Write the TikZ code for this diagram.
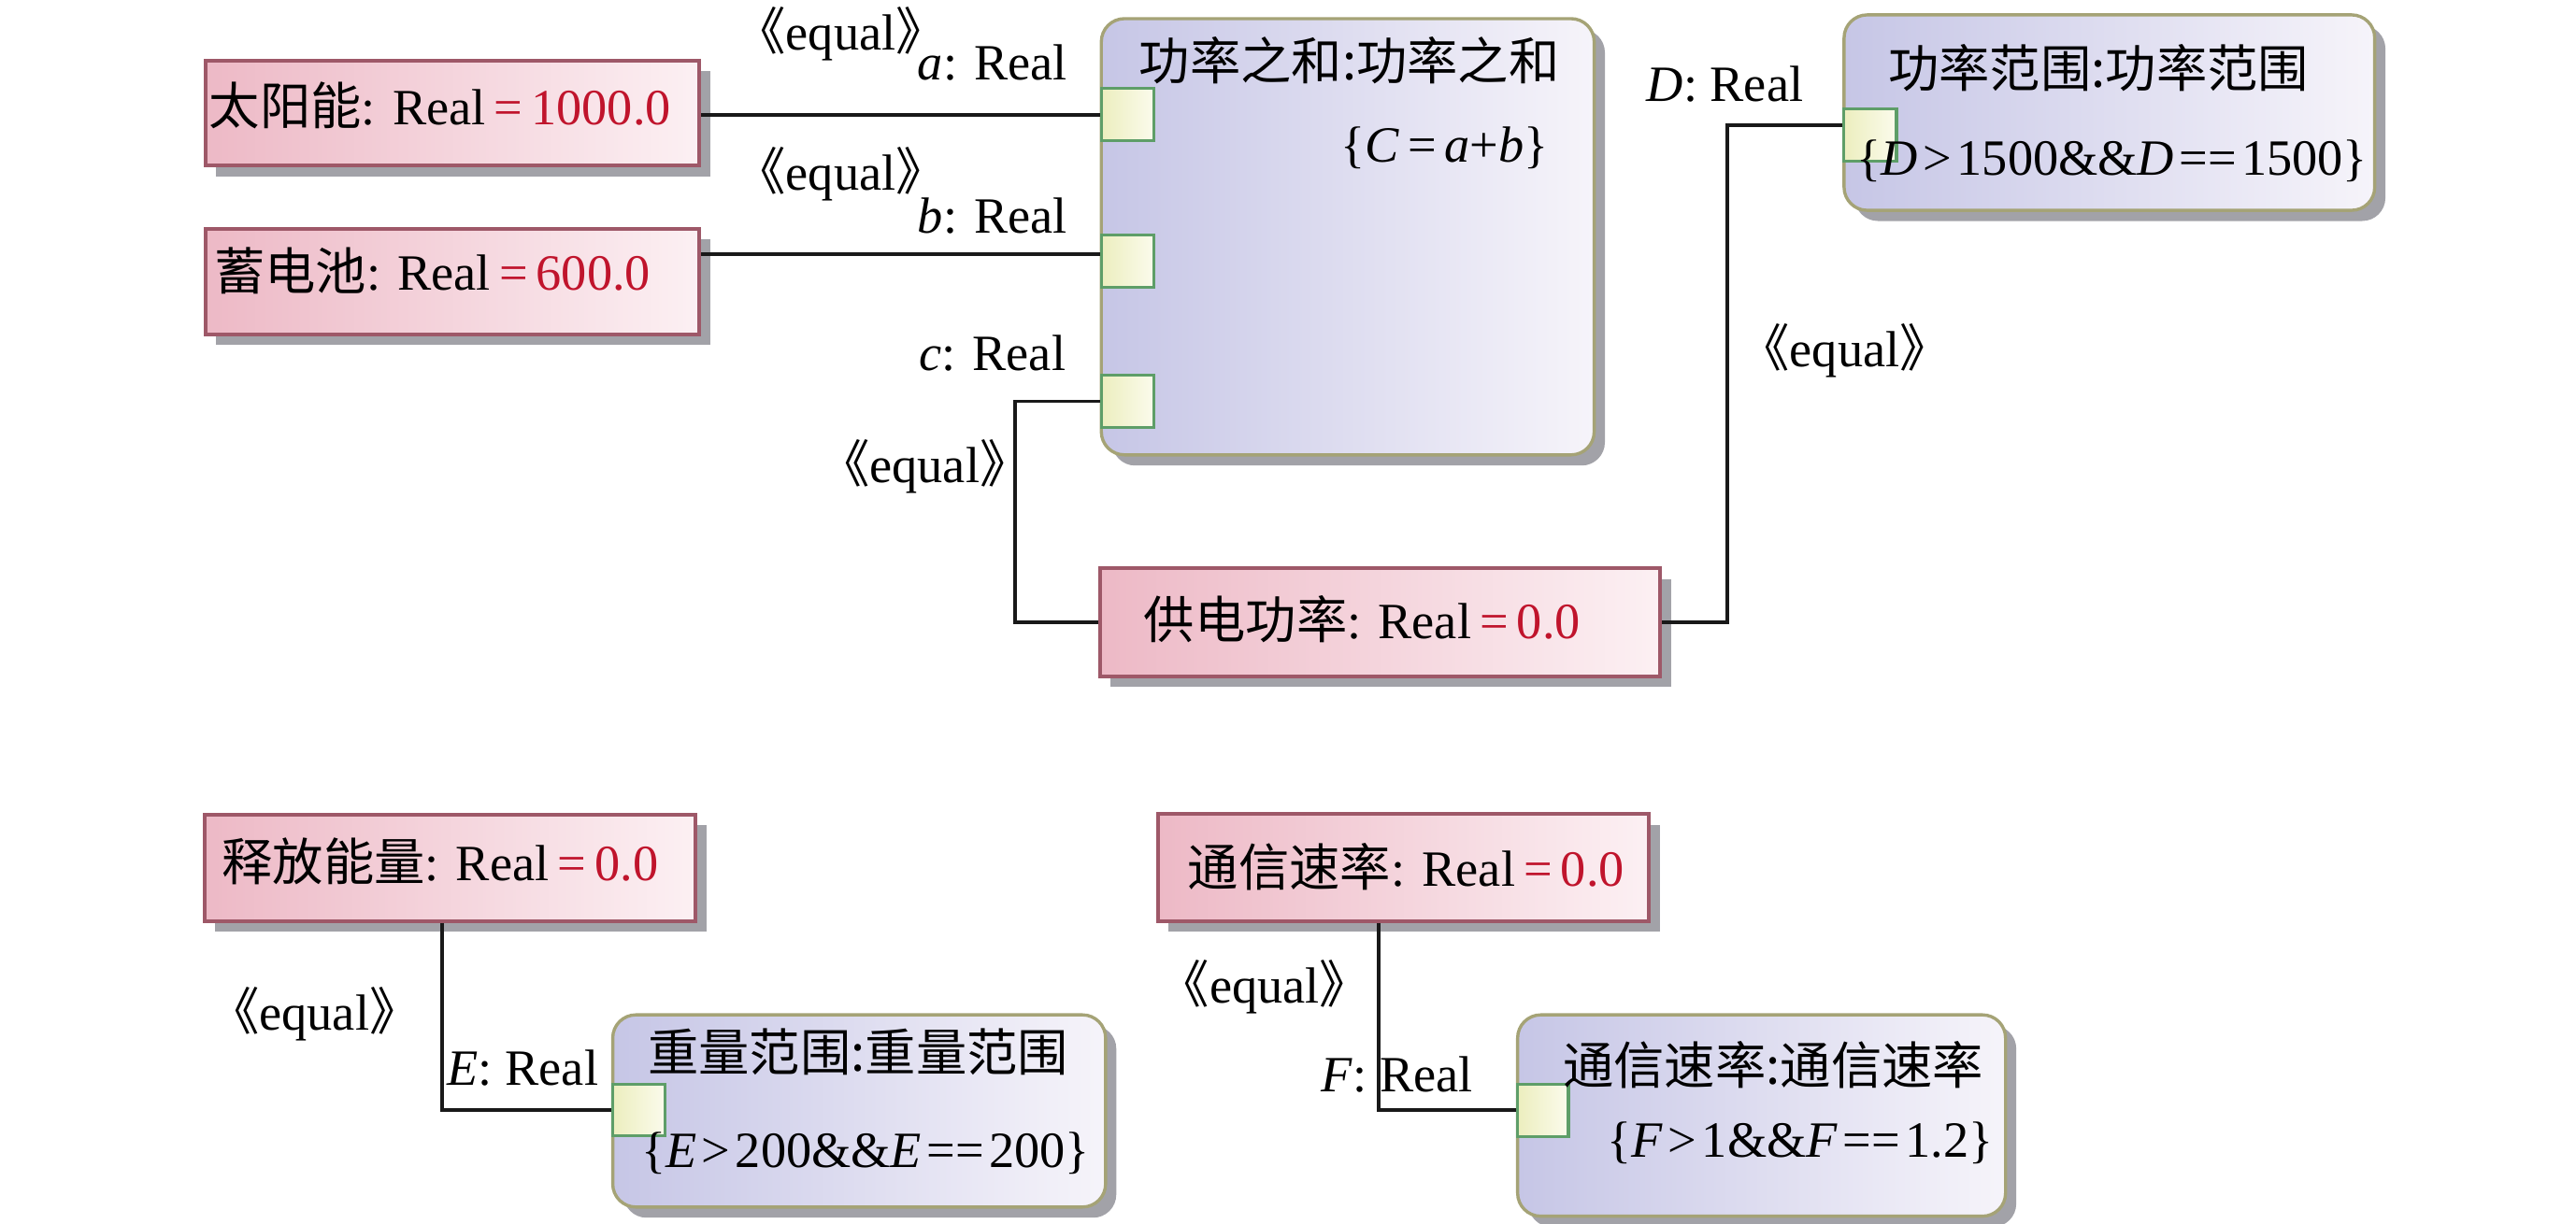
\documentclass[tikz,border=0pt]{standalone}
\usepackage{fontspec}
\setmainfont{Liberation Serif}
\newfontfamily\cjkfont{Noto Sans CJK SC}
\newcommand{\zh}[1]{{\cjkfont #1}}
\newcommand{\eql}{{\cjkfont\kern-0.45em《}equal{\cjkfont 》\kern-0.45em}}
\newcommand{\rv}[1]{\textcolor{valred}{#1}}
\usetikzlibrary{shadows}
\definecolor{pinkL}{HTML}{EDB9C6}
\definecolor{pinkR}{HTML}{FCF0F3}
\definecolor{pinkB}{HTML}{9E5868}
\definecolor{blueL}{HTML}{C6C6E6}
\definecolor{blueR}{HTML}{F6F4FA}
\definecolor{blueB}{HTML}{A5A376}
\definecolor{portL}{HTML}{ECEEBE}
\definecolor{portR}{HTML}{FBFBEC}
\definecolor{portB}{HTML}{5E9E68}
\definecolor{shadowc}{HTML}{A2A2A8}
\definecolor{valred}{HTML}{C0142C}
\tikzset{
  shad/.style={drop shadow={shadow xshift=0.13cm, shadow yshift=-0.13cm, fill=shadowc, opacity=1}},
  valbox/.style={shad, draw=pinkB, line width=1.3pt, left color=pinkL, right color=pinkR,
    rectangle, anchor=north west, inner sep=0pt},
  cblock/.style={shad, draw=blueB, line width=1.1pt, left color=blueL, right color=blueR,
    rectangle, rounded corners=8pt, anchor=north west, inner sep=0pt},
  portbox/.style={draw=portB, line width=1pt, left color=portL, right color=portR,
    rectangle, anchor=north west, inner sep=0pt, minimum width=32*0.02cm, minimum height=32*0.02cm},
  txt/.style={font=\fontsize{17.6}{21}\selectfont, inner sep=0pt, text=black},
  conn/.style={draw=black!90, line width=1.25pt},
}
\begin{document}
\begin{tikzpicture}[x=0.02cm, y=-0.02cm]
\path[use as bounding box] (0,0) rectangle (1568,744.75);

% value property boxes
\node[valbox, minimum width=300.5*0.02cm, minimum height=64*0.02cm] (sun) at (124,35.7) {};
\node[valbox, minimum width=300.5*0.02cm, minimum height=64.5*0.02cm] (bat) at (124,138) {};
\node[valbox, minimum width=341*0.02cm, minimum height=65.6*0.02cm] (pwr) at (668.5,345) {};
\node[valbox, minimum width=299*0.02cm, minimum height=64.8*0.02cm] (rel) at (123.3,495) {};
\node[valbox, minimum width=299*0.02cm, minimum height=65.2*0.02cm] (comm) at (703.7,494.6) {};

% constraint blocks
\node[cblock, minimum width=300*0.02cm, minimum height=265.6*0.02cm] (sum) at (669.4,10.4) {};
\node[cblock, minimum width=323*0.02cm, minimum height=119*0.02cm] (prange) at (1121.5,8.1) {};
\node[cblock, minimum width=300*0.02cm, minimum height=117*0.02cm] (wrange) at (372,617) {};
\node[cblock, minimum width=297*0.02cm, minimum height=122.6*0.02cm] (crate) at (922.8,617) {};

% ports
\node[portbox] (pa) at (669.4,53) {};
\node[portbox] (pb) at (669.4,142) {};
\node[portbox] (pc) at (669.4,227.5) {};
\node[portbox] (pd) at (1121.5,65.5) {};
\node[portbox, minimum height=31*0.02cm] (pe) at (372,659.6) {};
\node[portbox, minimum width=31*0.02cm, minimum height=31.5*0.02cm] (pf) at (922.8,659.5) {};

% connectors
\coordinate (bl) at (500,155);
\coordinate (cbend) at (618,242);
\coordinate (dbend) at (1051.5,76);
\coordinate (fx) at (839,600);
\coordinate (ex) at (269,600);
\draw[conn] (pa.west) -- (pa.west -| sun.east);
\draw[conn] (bl -| bat.east) -- (bl -| pb.west);
\draw[conn] (pc.west) -- (pc.west -| cbend) |- (pwr.west);
\draw[conn] (pwr.east) -| (dbend) -- (dbend -| pd.west);
\draw[conn] (rel.south -| ex) |- (pe.west);
\draw[conn] (comm.south -| fx) |- (pf.west);

% texts in value boxes
\node[txt, anchor=base west] (tsun) at (127,75.9) {\zh{太阳能}: Real\rv{\,=\,1000.0}};
\node[txt, anchor=base west] (tbat) at (130,176.4) {\zh{蓄电池}: Real\rv{\,=\,600.0}};
\node[txt, anchor=base west] (tpwr) at (696,388.6) {\zh{供电功率}: Real\rv{\,=\,0.0}};
\node[txt, anchor=base west] (trel) at (134.7,536.5) {\zh{释放能量}: Real\rv{\,=\,0.0}};
\node[txt, anchor=base west] (tcomm) at (722.7,539.5) {\zh{通信速率}: Real\rv{\,=\,0.0}};

% texts in constraint blocks
\node[txt, anchor=base west] (tsum) at (693,48.4) {\zh{功率之和:功率之和}};
\node[txt, anchor=base east] (csum) at (943,98.6) {\{\textit{C}\,=\,\textit{a}+\textit{b}\}};
\node[txt, anchor=base west] (tpr) at (1149,53.3) {\zh{功率范围:功率范围}};
\node[txt, anchor=base west] (cpr) at (1130,106.7) {\{\textit{D}\kern0.1em>\kern0.1em1500\&\&\textit{D}\kern0.1em==\kern0.1em1500\}};
\node[txt, anchor=base west] (twr) at (394,652.4) {\zh{重量范围:重量范围}};
\node[txt, anchor=base west] (cwr) at (390,711) {\{\textit{E}\kern0.1em>\kern0.1em200\&\&\textit{E}\kern0.1em==\kern0.1em200\}};
\node[txt, anchor=base west] (tcr) at (951,660) {\zh{通信速率:通信速率}};
\node[txt, anchor=base west] (ccr) at (978,704.5) {\{\textit{F}\kern0.1em>\kern0.1em1\&\&\textit{F}\kern0.1em==\kern0.1em1.2\}};

% connector labels
\node[txt, anchor=base west] (eq1) at (461,30.5) {\eql};
\node[txt, anchor=base east] (la) at (650,48.8) {\textit{a}: Real};
\node[txt, anchor=base west] (eq2) at (461,115.8) {\eql};
\node[txt, anchor=base east] (lb) at (650,142.2) {\textit{b}: Real};
\node[txt, anchor=base east] (lc) at (649,225.4) {\textit{c}: Real};
\node[txt, anchor=base west] (eq3) at (512,293.6) {\eql};
\node[txt, anchor=base west] (ld) at (1002,62) {\textit{D}: Real};
\node[txt, anchor=base west] (eq4) at (1072,223.5) {\eql};
\node[txt, anchor=base west] (eq5) at (140.5,627) {\eql};
\node[txt, anchor=base west] (le) at (272,661) {\textit{E}: Real};
\node[txt, anchor=base west] (eq6) at (719,610.6) {\eql};
\node[txt, anchor=base west] (lf) at (804,664.6) {\textit{F}: Real};
\end{tikzpicture}
\end{document}
